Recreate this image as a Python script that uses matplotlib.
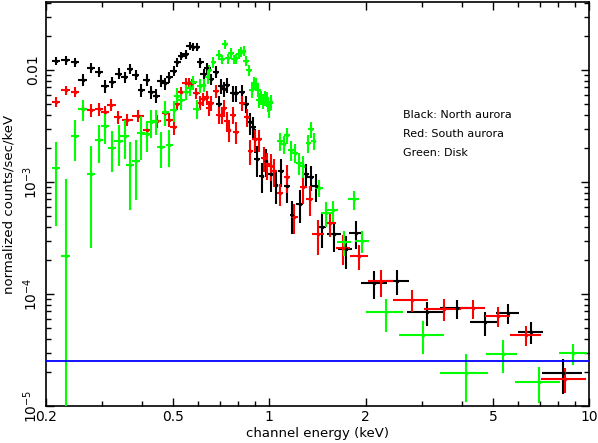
import numpy as np
import matplotlib
matplotlib.use('Agg')
import matplotlib.pyplot as plt
from matplotlib.ticker import FixedLocator, FixedFormatter, NullFormatter

# ---------------- data ----------------
# energies in keV, flux in normalized counts/sec/keV,
# *_ferr : relative (1-sigma) flux error, *_eerr : relative half bin width
north_e = [0.216, 0.231, 0.247, 0.261, 0.277, 0.293, 0.307, 0.323, 0.338, 0.353,
           0.367, 0.383, 0.398, 0.414, 0.428, 0.443, 0.458, 0.473, 0.487, 0.502,
           0.516, 0.531, 0.547, 0.563, 0.579, 0.593, 0.608, 0.624, 0.640, 0.656,
           0.681, 0.696, 0.707, 0.723, 0.738, 0.768, 0.786, 0.820, 0.846, 0.870,
           0.890, 0.905, 0.917, 0.946, 0.973, 1.012, 1.046, 1.088, 1.136, 1.18,
           1.244, 1.30, 1.345, 1.395, 1.458, 1.59, 1.73, 1.87, 2.13, 2.51,
           3.10, 3.85, 4.71, 5.57, 6.56, 8.30]
north_f = [0.0121, 0.0123, 0.0118, 0.0082, 0.0104, 0.0096, 0.0072, 0.0078, 0.0093, 0.0086,
           0.0102, 0.0091, 0.0066, 0.0082, 0.0064, 0.0059, 0.0080, 0.0076, 0.0086, 0.0098,
           0.0117, 0.0134, 0.0138, 0.0165, 0.0160, 0.0160, 0.0117, 0.0092, 0.0105, 0.0083,
           0.0096, 0.0050, 0.0072, 0.0068, 0.0074, 0.0062, 0.0062, 0.0063, 0.0050, 0.0034,
           0.0031, 0.0024, 0.0016, 0.00113, 0.00154, 0.00117, 0.00095, 0.00125, 0.00093, 0.00051,
           0.00064, 0.00117, 0.00111, 0.00093, 0.00040, 0.00034, 0.00025, 0.00035, 0.000125, 0.000130,
           6.84e-5, 7.43e-5, 5.57e-5, 6.76e-5, 4.57e-5, 1.96e-5]
north_ferr = [0.09, 0.09, 0.09, 0.12, 0.10, 0.10, 0.14, 0.12, 0.11, 0.11,
              0.10, 0.11, 0.13, 0.12, 0.13, 0.14, 0.12, 0.12, 0.11, 0.10,
              0.09, 0.09, 0.09, 0.08, 0.08, 0.08, 0.10, 0.11, 0.10, 0.12,
              0.12, 0.18, 0.15, 0.15, 0.15, 0.16, 0.16, 0.16, 0.18, 0.22,
              0.22, 0.25, 0.30, 0.30, 0.28, 0.30, 0.33, 0.28, 0.30, 0.33,
              0.33, 0.25, 0.25, 0.28, 0.35, 0.30, 0.33, 0.28, 0.28, 0.25,
              0.25, 0.20, 0.25, 0.20, 0.22, 0.35]
north_eerr = [0.03, 0.03, 0.03, 0.03, 0.03, 0.03, 0.03, 0.025, 0.025, 0.025,
              0.025, 0.025, 0.025, 0.025, 0.025, 0.025, 0.025, 0.025, 0.025, 0.025,
              0.025, 0.025, 0.025, 0.025, 0.025, 0.025, 0.025, 0.025, 0.025, 0.025,
              0.02, 0.02, 0.02, 0.02, 0.02, 0.02, 0.02, 0.02, 0.02, 0.02,
              0.02, 0.02, 0.02, 0.02, 0.02, 0.02, 0.02, 0.02, 0.02, 0.02,
              0.025, 0.025, 0.025, 0.025, 0.03, 0.05, 0.05, 0.05, 0.095, 0.085,
              0.13, 0.11, 0.10, 0.08, 0.09, 0.14]

south_e = [0.216, 0.231, 0.247, 0.261, 0.277, 0.293, 0.307, 0.321, 0.337, 0.360,
           0.389, 0.416, 0.445, 0.473, 0.487, 0.502, 0.516, 0.531, 0.547, 0.560,
           0.574, 0.592, 0.608, 0.621, 0.637, 0.646, 0.656, 0.681, 0.697, 0.709,
           0.721, 0.737, 0.746, 0.770, 0.786, 0.822, 0.850, 0.872, 0.902, 0.928,
           0.959, 0.984, 1.010, 1.035, 1.082, 1.136, 1.197, 1.275, 1.337, 1.420,
           1.552, 1.700, 1.909, 2.236, 2.79, 3.51, 4.32, 5.18, 6.34, 8.42]
south_f = [0.0052, 0.0066, 0.0064, 0.0045, 0.0044, 0.0045, 0.0042, 0.0049, 0.0038, 0.0036,
           0.0039, 0.0029, 0.0035, 0.0041, 0.0036, 0.0031, 0.0050, 0.0064, 0.0077, 0.0077,
           0.0076, 0.0062, 0.0051, 0.0055, 0.0057, 0.0046, 0.0051, 0.0065, 0.0040, 0.0040,
           0.0046, 0.0035, 0.0029, 0.0040, 0.0028, 0.0051, 0.0038, 0.0019, 0.0024, 0.0024,
           0.00165, 0.00144, 0.00139, 0.00125, 0.00079, 0.00111, 0.00049, 0.00091, 0.00071, 0.00034,
           0.00043, 0.00026, 0.00022, 0.00013, 8.9e-5, 7.34e-5, 7.43e-5, 6.40e-5, 4.32e-5, 1.75e-5]
south_ferr = [0.11, 0.10, 0.10, 0.13, 0.13, 0.13, 0.14, 0.13, 0.14, 0.13,
              0.12, 0.15, 0.14, 0.13, 0.14, 0.15, 0.12, 0.10, 0.10, 0.10,
              0.10, 0.12, 0.14, 0.14, 0.14, 0.16, 0.15, 0.13, 0.18, 0.18,
              0.17, 0.20, 0.22, 0.18, 0.22, 0.15, 0.18, 0.25, 0.22, 0.22,
              0.25, 0.27, 0.27, 0.28, 0.22, 0.28, 0.30, 0.30, 0.30, 0.35,
              0.25, 0.30, 0.25, 0.27, 0.22, 0.22, 0.20, 0.20, 0.20, 0.25]
south_eerr = [0.03, 0.03, 0.03, 0.03, 0.03, 0.03, 0.03, 0.03, 0.03, 0.04,
              0.04, 0.035, 0.03, 0.025, 0.025, 0.025, 0.025, 0.025, 0.025, 0.025,
              0.025, 0.025, 0.025, 0.02, 0.02, 0.02, 0.02, 0.02, 0.02, 0.02,
              0.02, 0.02, 0.02, 0.02, 0.02, 0.02, 0.02, 0.02, 0.02, 0.02,
              0.02, 0.02, 0.02, 0.02, 0.02, 0.02, 0.025, 0.025, 0.025, 0.04,
              0.04, 0.05, 0.065, 0.09, 0.125, 0.13, 0.09, 0.09, 0.11, 0.16]

disk_e = [0.216, 0.231, 0.247, 0.261, 0.277, 0.293, 0.307, 0.323, 0.338, 0.353,
          0.367, 0.383, 0.398, 0.414, 0.428, 0.443, 0.458, 0.473, 0.487, 0.502,
          0.516, 0.531, 0.547, 0.563, 0.579, 0.594, 0.608, 0.623, 0.641, 0.650,
          0.669, 0.696, 0.713, 0.727, 0.744, 0.759, 0.773, 0.788, 0.804, 0.815,
          0.831, 0.847, 0.864, 0.880, 0.893, 0.910, 0.920, 0.930, 0.944, 0.955,
          0.970, 0.980, 0.990, 1.000, 1.010, 1.082, 1.108, 1.136, 1.170, 1.204,
          1.238, 1.270, 1.324, 1.350, 1.376, 1.430, 1.508, 1.580, 1.710, 1.836,
          1.954, 2.31, 3.03, 4.11, 5.36, 6.98, 8.92]
disk_f = [0.00134, 0.00022, 0.00255, 0.00447, 0.00117, 0.00236, 0.00316, 0.00203, 0.00232, 0.00258,
          0.00142, 0.00154, 0.00272, 0.00267, 0.00340, 0.00351, 0.00207, 0.00426, 0.00214, 0.00438,
          0.00588, 0.00538, 0.00638, 0.00684, 0.00774, 0.00453, 0.00722, 0.00733, 0.00859, 0.0100,
          0.0117, 0.0136, 0.0125, 0.0171, 0.0127, 0.0142, 0.0125, 0.0127, 0.0139, 0.0146,
          0.0149, 0.0121, 0.0100, 0.0066, 0.0077, 0.0075, 0.0067, 0.0054, 0.0057, 0.0053,
          0.0056, 0.0055, 0.0050, 0.0045, 0.0052, 0.00232, 0.00217, 0.00261, 0.00193, 0.00183,
          0.00149, 0.00140, 0.00222, 0.00296, 0.00232, 0.00089, 0.00053, 0.00056, 0.00029, 0.00070,
          0.00030, 6.84e-5, 4.32e-5, 1.99e-5, 2.92e-5, 1.64e-5, 2.96e-5]
disk_ferr = [0.70, 3.8, 0.40, 0.22, 0.78, 0.37, 0.31, 0.40, 0.40, 0.38,
             0.60, 0.55, 0.42, 0.30, 0.28, 0.25, 0.35, 0.25, 0.37, 0.22,
             0.18, 0.18, 0.16, 0.15, 0.14, 0.20, 0.14, 0.14, 0.13, 0.12,
             0.11, 0.10, 0.10, 0.09, 0.10, 0.10, 0.10, 0.10, 0.10, 0.10,
             0.10, 0.11, 0.12, 0.14, 0.13, 0.13, 0.14, 0.15, 0.15, 0.15,
             0.15, 0.15, 0.16, 0.17, 0.16, 0.18, 0.18, 0.17, 0.20, 0.20,
             0.22, 0.22, 0.18, 0.16, 0.17, 0.18, 0.25, 0.22, 0.25, 0.20,
             0.22, 0.33, 0.33, 0.45, 0.32, 0.35, 0.22]
disk_eerr = [0.03, 0.03, 0.03, 0.03, 0.03, 0.03, 0.03, 0.03, 0.03, 0.03,
             0.03, 0.03, 0.03, 0.03, 0.03, 0.03, 0.03, 0.025, 0.025, 0.025,
             0.025, 0.025, 0.025, 0.025, 0.025, 0.025, 0.025, 0.02, 0.02, 0.02,
             0.02, 0.02, 0.02, 0.02, 0.02, 0.02, 0.02, 0.02, 0.02, 0.02,
             0.02, 0.02, 0.02, 0.02, 0.02, 0.02, 0.02, 0.02, 0.02, 0.02,
             0.02, 0.02, 0.02, 0.02, 0.02, 0.02, 0.02, 0.02, 0.02, 0.02,
             0.02, 0.02, 0.02, 0.02, 0.02, 0.03, 0.04, 0.04, 0.05, 0.04,
             0.05, 0.13, 0.16, 0.17, 0.11, 0.16, 0.10]

background_level = 2.5e-5

x_ticks = [0.2, 0.5, 1, 2, 5, 10]
x_ticklabels = ['0.2', '0.5', '1', '2', '5', '10']
y_ticks = [1e-5, 1e-4, 1e-3, 1e-2]
y_ticklabels = [r'$10^{-5}$', r'$10^{-4}$', r'$10^{-3}$', '0.01']
legend_lines = ['Black: North aurora', 'Red: South aurora', 'Green: Disk']

# ---------------- plot ----------------
plt.rcParams['font.family'] = ['DejaVu Sans']
plt.rcParams['mathtext.default'] = 'regular'

fig = plt.figure(figsize=(5.98, 4.43), dpi=100)
ax = fig.add_axes([0.0764, 0.0835, 0.9091, 0.912])
ax.set_xscale('log', nonpositive='clip')
ax.set_yscale('log', nonpositive='clip')

series = [(north_e, north_f, north_ferr, north_eerr, '#000000'),
          (south_e, south_f, south_ferr, south_eerr, '#ff0000'),
          (disk_e, disk_f, disk_ferr, disk_eerr, '#00ff00')]
for e, f, fr, er, c in series:
    e = np.asarray(e); f = np.asarray(f)
    ax.errorbar(e, f, xerr=e * np.asarray(er), yerr=f * np.asarray(fr),
                fmt='o', ms=2.6, mew=0, color=c, ecolor=c,
                elinewidth=1.5, capsize=0, zorder=3)

ax.axhline(background_level, color='#0000ff', lw=1.3, zorder=4)

ax.set_xlim(0.2, 10)
ax.set_ylim(1e-5, 0.0405)

ax.xaxis.set_major_locator(FixedLocator(x_ticks))
ax.xaxis.set_major_formatter(FixedFormatter(x_ticklabels))
ax.xaxis.set_minor_locator(FixedLocator([0.3, 0.4, 0.6, 0.7, 0.8, 0.9, 3, 4, 6, 7, 8, 9]))
ax.xaxis.set_minor_formatter(NullFormatter())

ymin = []
for d in [1e-5, 1e-4, 1e-3, 1e-2]:
    for k in range(2, 10):
        if d * k <= 0.04:
            ymin.append(d * k)
ax.yaxis.set_major_locator(FixedLocator(y_ticks))
ax.yaxis.set_major_formatter(FixedFormatter(y_ticklabels))
ax.yaxis.set_minor_locator(FixedLocator(ymin))
ax.yaxis.set_minor_formatter(NullFormatter())

ax.tick_params(which='both', direction='in', top=True, right=True, width=1.0)
ax.tick_params(which='major', length=6, labelsize=10)
ax.tick_params(which='minor', length=3.5)
ax.tick_params(axis='x', pad=3)
ax.tick_params(axis='y', pad=4)
for lab in ax.get_yticklabels():
    lab.set_rotation(90)
    lab.set_va('center')
for sp in ax.spines.values():
    sp.set_linewidth(1.2)

ax.set_xlabel('channel energy (keV)', fontsize=9.5, labelpad=2)
ax.set_ylabel('normalized counts/sec/keV', fontsize=9.5, labelpad=4)

for i, t in enumerate(legend_lines):
    ax.text(0.657, 0.720 - i * 0.047, t, transform=ax.transAxes,
            fontsize=8, va='center', ha='left', color='black')

fig.savefig('out.png', dpi=100)
